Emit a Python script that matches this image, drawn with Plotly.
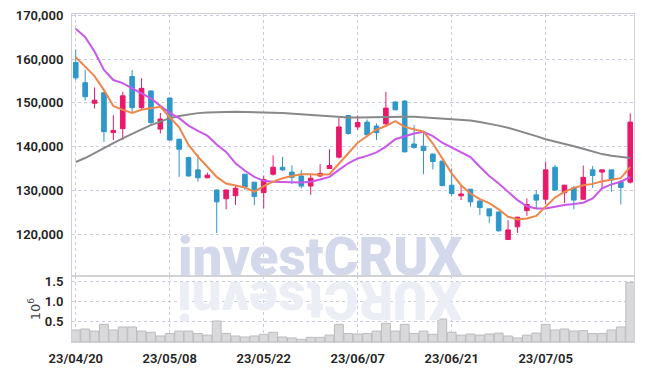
import plotly.graph_objects as go

dates = ["23/04/20","23/04/21","23/04/24","23/04/25","23/04/26","23/04/27","23/04/28","23/05/02","23/05/03","23/05/04",
         "23/05/08","23/05/09","23/05/10","23/05/11","23/05/12","23/05/15","23/05/16","23/05/17","23/05/18","23/05/19",
         "23/05/22","23/05/23","23/05/24","23/05/25","23/05/26","23/05/30","23/05/31","23/06/01","23/06/02","23/06/05",
         "23/06/07","23/06/08","23/06/09","23/06/12","23/06/13","23/06/14","23/06/15","23/06/16","23/06/19","23/06/20",
         "23/06/21","23/06/22","23/06/23","23/06/26","23/06/27","23/06/28","23/06/29","23/06/30","23/07/03","23/07/04",
         "23/07/05","23/07/06","23/07/07","23/07/10","23/07/11","23/07/12","23/07/13","23/07/14","23/07/17","23/07/18"]

open_ = [159200,154600,149900,152300,143200,144100,156000,148900,152700,144000,
         151100,141700,137500,134700,132900,130100,128100,128800,133700,131900,
         129500,133700,135300,134200,133300,131000,133300,135000,137600,147100,
         144500,145600,144700,145200,150200,150400,140600,140100,138300,136700,
         131200,128800,130300,127600,125800,125100,118800,121700,125400,129000,
         128000,135300,129500,130600,128000,134700,134200,134700,132000,131900]
high = [162200,157500,153500,152400,147200,152500,157500,155600,152800,147700,
        151200,141800,137700,138300,134100,130200,130200,131100,133800,131900,
        133400,138000,137700,135700,134700,133700,136000,139400,146600,147200,
        147100,146200,145300,152500,150300,150600,144900,143200,138400,136800,
        135000,131100,130300,127700,125800,125100,123200,124000,128200,130100,
        136600,135800,131300,131000,135700,135600,134700,134700,132400,147600]
low = [155200,150500,148700,141100,141500,141500,147700,148600,144900,143000,
       141400,133100,133200,132000,132800,120300,125700,126700,130100,126700,
       125900,133400,134400,131500,130500,129000,133000,134900,137300,142700,
       143800,142600,141500,144700,148300,138700,139500,133700,134800,131000,
       128800,127800,126300,124400,122600,120600,118800,120300,124200,125700,
       126800,129900,127100,125700,127900,130600,130500,129700,126800,131600]
close = [155700,151400,150600,143400,143700,151600,148900,153300,145500,146300,
         141500,139400,133300,132900,133500,127400,130100,130500,130800,128600,
         132500,135300,134700,133000,131000,132800,133900,135700,144500,143000,
         145500,142700,143200,148800,148400,138800,139800,139100,136600,131100,
         129300,129200,127400,126100,124200,120800,121000,123900,126800,127800,
         134700,130100,131200,127800,133000,133400,134700,132400,130700,145600]

ma_short = [160400,158200,156100,152900,149300,148400,147700,148400,148700,149100,
            146700,144400,140400,137700,135400,133100,131600,131100,130700,129700,
            131000,132000,132800,133300,133700,133700,133600,133700,136200,138500,
            140900,142500,143900,144700,145800,144500,143900,143400,140700,137400,
            133900,131200,129300,128000,127100,125700,124000,123400,123600,124200,
            126400,128400,129700,130600,131200,131500,132100,132400,132800,135400]
ma_mid = [166900,165000,161700,157500,155200,154500,153300,152200,151000,149300,
          147700,146500,144800,143600,142500,140500,138800,136200,134500,133100,
          132200,132000,132000,131900,131800,132000,132500,133100,134700,136200,
          137300,137900,138700,140000,141700,142400,143000,143400,142400,140900,
          139800,138600,137600,135400,133300,131600,129700,127800,126400,125900,
          125900,126300,126700,126900,127200,128200,130500,131400,132000,133100]
ma_long = [136500,137400,138500,139700,140800,141900,143000,143950,144900,145700,
           146500,147000,147400,147650,147800,147900,147950,147950,147900,147800,
           147750,147750,147700,147550,147400,147200,146950,146800,146700,146650,
           146650,146700,146750,146850,146900,146850,146800,146650,146650,146450,
           146300,146100,145950,145600,145250,144800,144300,143700,143100,142400,
           141700,141200,140700,140100,139500,138900,138300,137900,137600,137400]
volume = [296000,320000,270000,435000,296000,370000,370000,270000,240000,148000,
          210000,270000,270000,210000,170000,517000,210000,148000,123000,148000,
          190000,240000,123000,100000,66000,115000,115000,170000,435000,210000,
          197000,210000,270000,460000,270000,435000,210000,270000,190000,567000,
          240000,170000,197000,170000,197000,220000,148000,100000,170000,220000,
          435000,296000,320000,270000,280000,210000,210000,296000,370000,1470000]

price_ticks = [120000, 130000, 140000, 150000, 160000, 170000]
price_labels = ["120,000", "130,000", "140,000", "150,000", "160,000", "170,000"]
vol_ticks = [500000, 1000000, 1500000]
vol_labels = ["0.5", "1.0", "1.5"]
x_ticks = dates[::10]
watermark = "investCRUX"

RED = "#e8196a"
BLUE = "#2f97c9"
GRID = "#c9cbe0"
FRAME = "#d2d2d6"
TICKFONT = dict(family="Roboto, Liberation Sans, sans-serif", size=13, color="#222222", weight=600)

fig = go.Figure()
fig.add_trace(go.Candlestick(
    x=dates, open=open_, high=high, low=low, close=close,
    increasing=dict(line=dict(color=RED, width=1), fillcolor=RED),
    decreasing=dict(line=dict(color=BLUE, width=1), fillcolor=BLUE),
    whiskerwidth=0, xaxis="x", yaxis="y", showlegend=False))
fig.add_trace(go.Scatter(x=dates, y=ma_long, mode="lines", line=dict(color="#888888", width=2),
                         xaxis="x", yaxis="y", showlegend=False))
fig.add_trace(go.Scatter(x=dates, y=ma_mid, mode="lines", line=dict(color="#c957ea", width=2),
                         xaxis="x", yaxis="y", showlegend=False))
fig.add_trace(go.Scatter(x=dates, y=ma_short, mode="lines", line=dict(color="#ee874c", width=2),
                         xaxis="x", yaxis="y", showlegend=False))
fig.add_trace(go.Bar(x=dates, y=volume, xaxis="x2", yaxis="y2",
                     marker=dict(color="#d9d9db", line=dict(color="#bcbcc0", width=1)),
                     showlegend=False))

L, R, T, B = 72, 11, 14, 28
W, H = 645, 370
pw, ph = W - L - R, H - T - B
split = (342 - 276) / ph

axis_common = dict(showline=True, mirror=True, linecolor=FRAME, linewidth=1,
                   gridcolor=GRID, griddash="dot", gridwidth=1, zeroline=False,
                   ticks="", tickfont=TICKFONT, automargin=False)

fig.update_layout(
    width=W, height=H, margin=dict(l=L, r=R, t=T, b=B, autoexpand=False),
    paper_bgcolor="white", plot_bgcolor="white",
    bargap=0.06, boxgap=0.3,
    xaxis=dict(domain=[0, 1], anchor="y", type="category", range=[-0.4, 59.4],
               tickvals=x_ticks, showticklabels=False, rangeslider=dict(visible=False),
               **axis_common),
    xaxis2=dict(domain=[0, 1], anchor="y2", type="category", range=[-0.4, 59.4], matches="x",
                tickvals=x_ticks, ticktext=x_ticks, ticklabelstandoff=4, **axis_common),
    yaxis=dict(domain=[split, 1], anchor="x", range=[110480, 170270],
               tickvals=price_ticks, ticktext=price_labels, ticklabelstandoff=5, **axis_common),
    yaxis2=dict(domain=[0, split], anchor="x2", range=[0, 1626000],
                tickvals=vol_ticks, ticktext=vol_labels, ticklabelstandoff=5,
                title=dict(text="10<sup>6</sup>", standoff=1,
                           font=dict(family="DejaVu Sans, sans-serif", size=13, color="#444444")),
                **axis_common),
)

# watermark
wm_font = dict(family="Roboto, Liberation Sans, sans-serif", size=53, color="#d3d8ea", weight=900)
x_left, x_right = 178, 462
fig.add_annotation(text=watermark, xref="paper", yref="paper",
                   x=((x_left + x_right) / 2 - L) / pw, y=(342 - 257) / ph,
                   xanchor="center", yanchor="middle", showarrow=False, font=wm_font)
# reflection: per-character, flipped
char_w = {"i": 0.247, "n": 0.554, "v": 0.497, "e": 0.531, "s": 0.519, "t": 0.327,
          "C": 0.649, "R": 0.628, "U": 0.642, "X": 0.632}
total = sum(char_w[c] for c in watermark)
scale = (x_right - x_left) / total
cx = x_left
for ch in watermark:
    w = char_w[ch] * scale
    fig.add_annotation(text=ch, xref="paper", yref="paper",
                       x=(cx + w / 2 - L) / pw, y=(342 - 300) / ph,
                       xanchor="center", yanchor="middle", showarrow=False, textangle=180,
                       width=max(int(w) - 1, 6), borderpad=0,
                       font=dict(family=wm_font["family"], size=53, color="#eceef5", weight=900))
    cx += w

fig.write_html("out.html", config={"displayModeBar": False},
               post_script="document.body.style.margin='0';document.body.style.overflow='hidden';")
